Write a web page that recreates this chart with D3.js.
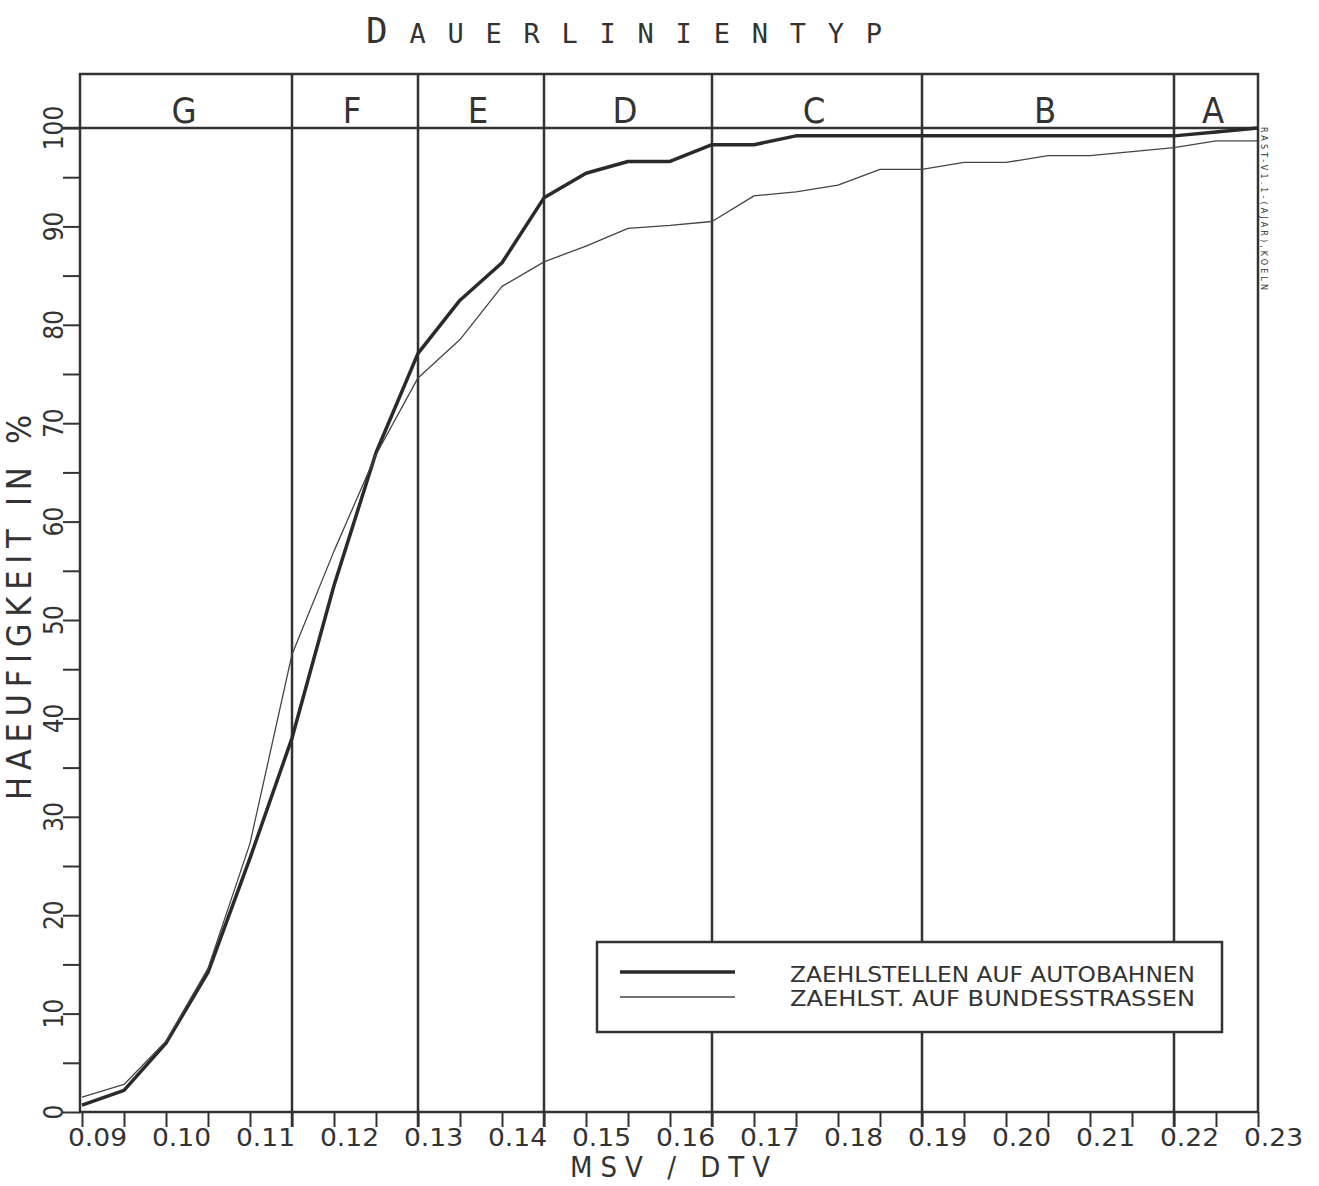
<!DOCTYPE html>
<html>
<head>
<meta charset="utf-8">
<script src="https://cdn.jsdelivr.net/npm/d3@7"></script>
<style>
  body { margin: 0; background: #fff; }
  text { font-family: "DejaVu Sans Condensed", "Liberation Sans Narrow", "DejaVu Sans", sans-serif; fill: #333; }
</style>
</head>
<body>
<svg width="1319" height="1186"></svg>
<script>
// MSV/DTV ratio, one point every 0.005
const ratios = [0.09, 0.095, 0.10, 0.105, 0.11, 0.115, 0.12, 0.125, 0.13, 0.135, 0.14, 0.145, 0.15, 0.155,
  0.16, 0.165, 0.17, 0.175, 0.18, 0.185, 0.19, 0.195, 0.20, 0.205, 0.21, 0.215, 0.22, 0.225, 0.23];

// cumulative frequency in %
const autobahn = [0.7, 2.2, 7.0, 14.2, 25.8, 38.0, 53.5, 67.0, 77.1, 82.5, 86.3, 92.9, 95.4, 96.6,
  96.6, 98.3, 98.3, 99.2, 99.2, 99.2, 99.2, 99.2, 99.2, 99.2, 99.2, 99.2, 99.2, 99.6, 100];
const bundes = [1.5, 2.8, 7.2, 14.6, 27.3, 46.5, 57.0, 66.8, 74.6, 78.5, 83.9, 86.4, 88.0, 89.8,
  90.1, 90.5, 93.1, 93.5, 94.2, 95.8, 95.8, 96.5, 96.5, 97.2, 97.2, 97.6, 98.0, 98.7, 98.7];

// type zones (Dauerlinientyp)
const zoneBounds = [0.115, 0.13, 0.145, 0.165, 0.19, 0.22];
const zoneNames = ["G", "F", "E", "D", "C", "B", "A"];

const xLabelValues = [0.09, 0.10, 0.11, 0.12, 0.13, 0.14, 0.15, 0.16, 0.17, 0.18, 0.19, 0.20, 0.21, 0.22, 0.23];
const xLabels = ["0.09", "0.10", "0.11", "0.12", "0.13", "0.14", "0.15", "0.16", "0.17", "0.18", "0.19", "0.20", "0.21", "0.22", "0.23"];
const yMinorTicks = [0, 5, 10, 15, 20, 25, 30, 35, 40, 45, 50, 55, 60, 65, 70, 75, 80, 85, 90, 95, 100];
const yLabels = [0, 10, 20, 30, 40, 50, 60, 70, 80, 90, 100];

const legendNames = ["ZAEHLSTELLEN AUF AUTOBAHNEN", "ZAEHLST. AUF BUNDESSTRASSEN"];

const ink = "#333";
const svg = d3.select("svg");

const x = d3.scaleLinear().domain([0.09, 0.23]).range([82, 1258]);
const y = d3.scaleLinear().domain([0, 100]).range([1112, 128]);
const frameTop = 74;

// title
const title = svg.append("text")
  .attr("x", 366).attr("y", 43)
  .attr("textLength", 516).attr("lengthAdjust", "spacing")
  .style("font-family", "'DejaVu Sans Mono', 'Liberation Mono', monospace");
title.append("tspan").style("font-size", "36px").text("D");
title.append("tspan").style("font-size", "27px").text("AUERLINIENTYP");

// axes ticks
svg.append("g")
  .attr("transform", `translate(0,${y(0)})`)
  .call(d3.axisBottom(x).tickValues(ratios).tickSize(15).tickFormat(""))
  .call(g => g.select(".domain").remove())
  .call(g => g.selectAll("line").attr("stroke", ink).attr("stroke-width", 2));

svg.append("g")
  .attr("transform", `translate(80,0)`)
  .call(d3.axisLeft(y).tickValues(yMinorTicks).tickSize(17).tickFormat(""))
  .call(g => g.select(".domain").remove())
  .call(g => g.selectAll("line").attr("stroke", ink).attr("stroke-width", 2));

// x tick labels
svg.append("g").selectAll("text")
  .data(xLabelValues)
  .join("text")
  .attr("x", d => x(d) - 14)
  .attr("y", 1146)
  .attr("textLength", 59).attr("lengthAdjust", "spacingAndGlyphs")
  .style("font-size", "24px")
  .text((d, i) => xLabels[i]);

// y tick labels (rotated)
svg.append("g").selectAll("text")
  .data(yLabels)
  .join("text")
  .attr("transform", d => `translate(63,${y(d)}) rotate(-90)`)
  .attr("text-anchor", "middle")
  .style("font-size", "26px")
  .text(d => d);

// frame
svg.append("rect")
  .attr("x", 80).attr("y", frameTop)
  .attr("width", x(0.23) - 80).attr("height", y(0) - frameTop)
  .attr("fill", "none").attr("stroke", ink).attr("stroke-width", 2.5);

// 100% line
svg.append("line")
  .attr("x1", 63).attr("x2", x(0.23))
  .attr("y1", y(100)).attr("y2", y(100))
  .attr("stroke", ink).attr("stroke-width", 2.5);

// zone boundaries
svg.append("g").selectAll("line")
  .data(zoneBounds)
  .join("line")
  .attr("x1", d => x(d)).attr("x2", d => x(d))
  .attr("y1", frameTop).attr("y2", y(0) + 15)
  .attr("stroke", ink).attr("stroke-width", 2.5);

// zone labels
const zoneEdges = [0.09, ...zoneBounds, 0.23];
svg.append("g").selectAll("text")
  .data(zoneNames)
  .join("text")
  .attr("x", (d, i) => (x(zoneEdges[i]) + x(zoneEdges[i + 1])) / 2 - 3)
  .attr("y", 123)
  .attr("text-anchor", "middle")
  .style("font-size", "36px")
  .text(d => d);

// curves
const line = d3.line().x((d, i) => x(ratios[i])).y(d => y(d));
svg.append("path").datum(autobahn)
  .attr("d", line).attr("fill", "none")
  .attr("stroke", "#2a2a2a").attr("stroke-width", 3.5).attr("stroke-linejoin", "round");
svg.append("path").datum(bundes)
  .attr("d", line).attr("fill", "none")
  .attr("stroke", "#444").attr("stroke-width", 1.3).attr("stroke-linejoin", "round");

// legend
const legend = svg.append("g");
legend.append("rect")
  .attr("x", 597).attr("y", 942).attr("width", 625).attr("height", 90)
  .attr("fill", "#fff").attr("stroke", ink).attr("stroke-width", 2.5);
legend.selectAll("line.key")
  .data(legendNames)
  .join("line")
  .attr("class", "key")
  .attr("x1", 620).attr("x2", 735)
  .attr("y1", (d, i) => 972 + i * 25).attr("y2", (d, i) => 972 + i * 25)
  .attr("stroke", (d, i) => i ? "#444" : "#2a2a2a")
  .attr("stroke-width", (d, i) => i ? 1.3 : 3.5);
legend.selectAll("text")
  .data(legendNames)
  .join("text")
  .attr("x", 790)
  .attr("y", (d, i) => 982 + i * 24)
  .attr("textLength", 405).attr("lengthAdjust", "spacingAndGlyphs")
  .style("font-size", "22px")
  .text(d => d);

// axis titles
svg.append("text")
  .attr("x", 570).attr("y", 1177)
  .attr("textLength", 200).attr("lengthAdjust", "spacing")
  .style("font-size", "29px")
  .text("MSV / DTV");

svg.append("text")
  .attr("transform", "translate(31,800) rotate(-90)")
  .attr("textLength", 385).attr("lengthAdjust", "spacing")
  .style("font-size", "34px")
  .text("HAEUFIGKEIT IN %");

// plotter note on the right edge
svg.append("text")
  .attr("transform", "translate(1261,127) rotate(90)")
  .attr("textLength", 163).attr("lengthAdjust", "spacing")
  .style("font-size", "9px")
  .text("RAST-V1.1-(AJAR),KOELN");
</script>
</body>
</html>
